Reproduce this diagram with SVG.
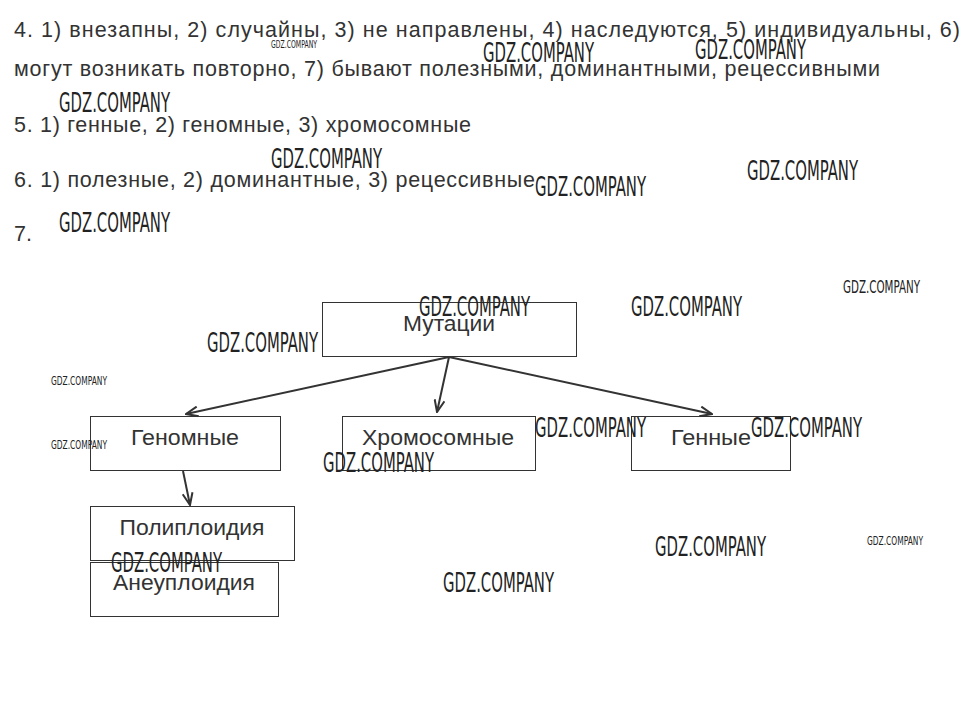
<svg xmlns="http://www.w3.org/2000/svg" width="967" height="703" viewBox="0 0 967 703">
<defs>
<style>
.t{font-family:"Liberation Sans",Arial,sans-serif;font-size:21.5px;fill:#333}
.n{font-family:"Liberation Sans",Arial,sans-serif;font-size:22px;fill:#333;text-anchor:middle}
.box{fill:none;stroke:#333;stroke-width:1}
.c{fill:none;stroke:#333;stroke-width:2}
.w{font-family:"DejaVu Sans Condensed","DejaVu Sans",sans-serif;font-stretch:condensed;font-weight:200;fill:#222}
</style>
<marker id="ah" viewBox="0 0 14 12" refX="13" refY="6" markerWidth="14" markerHeight="12" markerUnits="userSpaceOnUse" orient="auto">
<path d="M1,1 L13,6 L1,11" fill="none" stroke="#333" stroke-width="2"/>
</marker>
</defs>
<rect width="967" height="703" fill="#fff"/>
<g id="text">
<text class="t" x="14" y="37" textLength="946" lengthAdjust="spacing">4. 1) внезапны, 2) случайны, 3) не направлены, 4) наследуются, 5) индивидуальны, 6)</text>
<text class="t" x="14" y="76" textLength="866" lengthAdjust="spacing">могут возникать повторно, 7) бывают полезными, доминантными, рецессивными</text>
<text class="t" x="14" y="132" textLength="457" lengthAdjust="spacing">5. 1) генные, 2) геномные, 3) хромосомные</text>
<text class="t" x="14" y="187" textLength="521" lengthAdjust="spacing">6. 1) полезные, 2) доминантные, 3) рецессивные</text>
<text class="t" x="14" y="241">7.</text>
</g>
<g id="connectors">
<line class="c" x1="449" y1="357" x2="186" y2="414" marker-end="url(#ah)"/>
<line class="c" x1="449" y1="357" x2="437" y2="412" marker-end="url(#ah)"/>
<line class="c" x1="449" y1="357" x2="712" y2="414" marker-end="url(#ah)"/>
<line class="c" x1="183" y1="471" x2="190" y2="505" marker-end="url(#ah)"/>
</g>
<g id="mutations"><rect class="box" x="322.5" y="302.5" width="254" height="54"/><text class="n" x="449" y="331" textLength="92" lengthAdjust="spacingAndGlyphs">Мутации</text></g>
<g id="genomic"><rect class="box" x="90.5" y="416.5" width="190" height="54"/><text class="n" x="185" y="445" textLength="108" lengthAdjust="spacingAndGlyphs">Геномные</text></g>
<g id="chromosomal"><rect class="box" x="342.5" y="416.5" width="193" height="54"/><text class="n" x="438" y="445" textLength="152" lengthAdjust="spacingAndGlyphs">Хромосомные</text></g>
<g id="gene"><rect class="box" x="631.5" y="416.5" width="159" height="54"/><text class="n" x="711" y="445" textLength="80" lengthAdjust="spacingAndGlyphs">Генные</text></g>
<g id="polyploidy"><rect class="box" x="90.5" y="506.5" width="204" height="54"/><text class="n" x="192" y="535" textLength="145" lengthAdjust="spacingAndGlyphs">Полиплоидия</text></g>
<g id="aneuploidy"><rect class="box" x="90.5" y="562.5" width="188" height="54"/><text class="n" x="184" y="590" textLength="142" lengthAdjust="spacingAndGlyphs">Анеуплоидия</text></g>
<g id="watermarks">
<text class="w" x="271" y="48" font-size="10" textLength="46" lengthAdjust="spacingAndGlyphs">GDZ.COMPANY</text>
<text class="w" x="483" y="62" font-size="27" textLength="111" lengthAdjust="spacingAndGlyphs">GDZ.COMPANY</text>
<text class="w" x="695" y="59" font-size="27" textLength="111" lengthAdjust="spacingAndGlyphs">GDZ.COMPANY</text>
<text class="w" x="59" y="112" font-size="27" textLength="111" lengthAdjust="spacingAndGlyphs">GDZ.COMPANY</text>
<text class="w" x="271" y="168" font-size="27" textLength="111" lengthAdjust="spacingAndGlyphs">GDZ.COMPANY</text>
<text class="w" x="747" y="180" font-size="27" textLength="111" lengthAdjust="spacingAndGlyphs">GDZ.COMPANY</text>
<text class="w" x="535" y="196" font-size="27" textLength="111" lengthAdjust="spacingAndGlyphs">GDZ.COMPANY</text>
<text class="w" x="59" y="232" font-size="27" textLength="111" lengthAdjust="spacingAndGlyphs">GDZ.COMPANY</text>
<text class="w" x="843" y="293" font-size="17" textLength="77" lengthAdjust="spacingAndGlyphs">GDZ.COMPANY</text>
<text class="w" x="419" y="316" font-size="27" textLength="111" lengthAdjust="spacingAndGlyphs">GDZ.COMPANY</text>
<text class="w" x="631" y="316" font-size="27" textLength="111" lengthAdjust="spacingAndGlyphs">GDZ.COMPANY</text>
<text class="w" x="207" y="352" font-size="27" textLength="111" lengthAdjust="spacingAndGlyphs">GDZ.COMPANY</text>
<text class="w" x="51" y="385" font-size="13" textLength="56" lengthAdjust="spacingAndGlyphs">GDZ.COMPANY</text>
<text class="w" x="51" y="449" font-size="13" textLength="56" lengthAdjust="spacingAndGlyphs">GDZ.COMPANY</text>
<text class="w" x="535" y="437" font-size="27" textLength="111" lengthAdjust="spacingAndGlyphs">GDZ.COMPANY</text>
<text class="w" x="751" y="437" font-size="27" textLength="111" lengthAdjust="spacingAndGlyphs">GDZ.COMPANY</text>
<text class="w" x="323" y="472" font-size="27" textLength="111" lengthAdjust="spacingAndGlyphs">GDZ.COMPANY</text>
<text class="w" x="655" y="556" font-size="27" textLength="111" lengthAdjust="spacingAndGlyphs">GDZ.COMPANY</text>
<text class="w" x="867" y="545" font-size="13" textLength="56" lengthAdjust="spacingAndGlyphs">GDZ.COMPANY</text>
<text class="w" x="111" y="572" font-size="27" textLength="111" lengthAdjust="spacingAndGlyphs">GDZ.COMPANY</text>
<text class="w" x="443" y="592" font-size="27" textLength="111" lengthAdjust="spacingAndGlyphs">GDZ.COMPANY</text>
</g>
</svg>
